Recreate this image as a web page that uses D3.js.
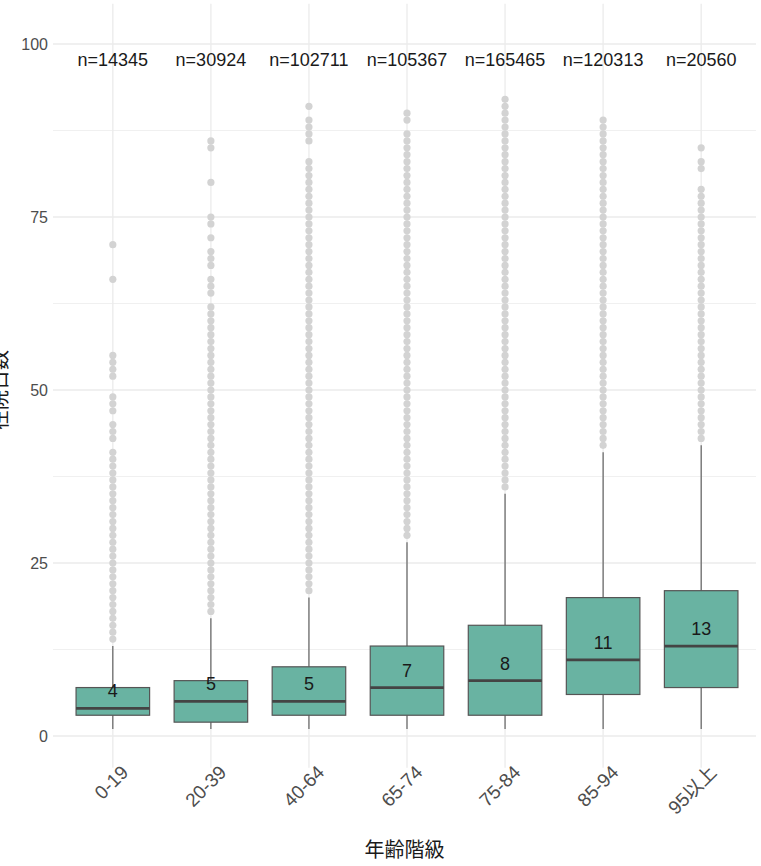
<!DOCTYPE html>
<html>
<head>
<meta charset="utf-8">
<script src="https://cdn.jsdelivr.net/npm/d3@7"></script>
<style>
  html, body { margin: 0; padding: 0; background: #ffffff; }
  svg { display: block; }
  text { font-family: "Liberation Sans", Arial, "Noto Sans CJK JP", sans-serif; }
</style>
</head>
<body>
<svg id="chart" width="761" height="866"></svg>
<script>
// Length of stay (days) by age group
const ageGroups = ["0-19", "20-39", "40-64", "65-74", "75-84", "85-94", "95以上"];
const counts = [14345, 30924, 102711, 105367, 165465, 120313, 20560];
const whiskerLow = [1, 1, 1, 1, 1, 1, 1];
const q1 = [3, 2, 3, 3, 3, 6, 7];
const medians = [4, 5, 5, 7, 8, 11, 13];
const q3 = [7, 8, 10, 13, 16, 20, 21];
const whiskerHigh = [13, 17, 20, 28, 35, 41, 42];

const outliers0 = [14, 15, 16, 17, 18, 19, 20, 21, 22, 23, 24, 25, 26, 27, 28, 29, 30, 31, 32, 33, 34, 35, 36, 37, 38, 39, 40, 41,
  43, 44, 45, 47, 48, 49, 52, 53, 54, 55, 66, 71];
const outliers1 = [18, 19, 20, 21, 22, 23, 24, 25, 26, 27, 28, 29, 30, 31, 32, 33, 34, 35, 36, 37, 38, 39, 40, 41, 42, 43, 44, 45,
  46, 47, 48, 49, 50, 51, 52, 53, 54, 55, 56, 57, 58, 59, 60, 61, 62, 64, 65, 66, 68, 69, 70, 72, 74, 75, 80, 85, 86];
const outliers2 = [21, 22, 23, 24, 25, 26, 27, 28, 29, 30, 31, 32, 33, 34, 35, 36, 37, 38, 39, 40, 41, 42, 43, 44, 45, 46, 47, 48,
  49, 50, 51, 52, 53, 54, 55, 56, 57, 58, 59, 60, 61, 62, 63, 64, 65, 66, 67, 68, 69, 70, 71, 72, 73, 74, 75, 76, 77, 78, 79, 80,
  81, 82, 83, 86, 87, 88, 89, 91];
const outliers3 = [29, 30, 31, 32, 33, 34, 35, 36, 37, 38, 39, 40, 41, 42, 43, 44, 45, 46, 47, 48, 49, 50, 51, 52, 53, 54, 55, 56,
  57, 58, 59, 60, 61, 62, 63, 64, 65, 66, 67, 68, 69, 70, 71, 72, 73, 74, 75, 76, 77, 78, 79, 80, 81, 82, 83, 84, 85, 86, 87, 89, 90];
const outliers4 = [36, 37, 38, 39, 40, 41, 42, 43, 44, 45, 46, 47, 48, 49, 50, 51, 52, 53, 54, 55, 56, 57, 58, 59, 60, 61, 62, 63,
  64, 65, 66, 67, 68, 69, 70, 71, 72, 73, 74, 75, 76, 77, 78, 79, 80, 81, 82, 83, 84, 85, 86, 87, 88, 89, 90, 91, 92];
const outliers5 = [42, 43, 44, 45, 46, 47, 48, 49, 50, 51, 52, 53, 54, 55, 56, 57, 58, 59, 60, 61, 62, 63, 64, 65, 66, 67, 68, 69,
  70, 71, 72, 73, 74, 75, 76, 77, 78, 79, 80, 81, 82, 83, 84, 85, 86, 87, 88, 89];
const outliers6 = [43, 44, 45, 46, 47, 48, 49, 50, 51, 52, 53, 54, 55, 56, 57, 58, 59, 60, 61, 62, 63, 64, 65, 66, 67, 68, 69, 70,
  71, 72, 73, 74, 75, 76, 77, 78, 79, 82, 83, 85];
const outlierLists = [outliers0, outliers1, outliers2, outliers3, outliers4, outliers5, outliers6];

const yTicks = [0, 25, 50, 75, 100];
const yMinorTicks = [12.5, 37.5, 62.5, 87.5];
const nLabelY = 97.7;

const xTitle = "年齢階級";
const yTitle = "在院日数";

// Scales
const x = d3.scaleBand().domain(ageGroups).range([54, 760]).paddingOuter(0.1).paddingInner(0);
const y = d3.scaleLinear().domain([0, 100]).range([736, 44]);

const panelTop = y(105.8), panelBottom = y(-4.6);
const panelLeft = 53, panelRight = 756;
const boxW = x.bandwidth() * 0.75;
const cx = d => x(d) + x.bandwidth() / 2;

const svg = d3.select("#chart");

// Grid
const grid = svg.append("g");
grid.selectAll(".ymin").data(yMinorTicks).join("line")
  .attr("x1", panelLeft).attr("x2", panelRight)
  .attr("y1", d => y(d)).attr("y2", d => y(d))
  .attr("stroke", "#f0f0f0").attr("stroke-width", 1);
grid.selectAll(".ymaj").data(yTicks).join("line")
  .attr("x1", panelLeft).attr("x2", panelRight)
  .attr("y1", d => y(d)).attr("y2", d => y(d))
  .attr("stroke", "#ebebeb").attr("stroke-width", 1.3);
grid.selectAll(".xmaj").data(ageGroups).join("line")
  .attr("x1", d => cx(d)).attr("x2", d => cx(d))
  .attr("y1", panelTop).attr("y2", panelBottom)
  .attr("stroke", "#ebebeb").attr("stroke-width", 1.3);

// Y axis labels
const yAxis = svg.append("g").attr("transform", `translate(${panelLeft - 5},0)`)
  .call(d3.axisLeft(y).tickValues(yTicks).tickSize(0).tickPadding(0));
yAxis.select(".domain").remove();
yAxis.selectAll("text").attr("font-size", 16).attr("fill", "#4d4d4d")
  .attr("font-family", "Liberation Sans, Arial, sans-serif");

// X axis labels (rotated)
svg.append("g").selectAll("text").data(ageGroups).join("text")
  .attr("transform", d => `translate(${cx(d) + 7},${764}) rotate(-45)`)
  .attr("text-anchor", "end")
  .attr("dominant-baseline", "hanging")
  .attr("font-size", 19)
  .attr("fill", "#4d4d4d")
  .text(d => d);

// Boxes
const groups = ageGroups.map((g, i) => ({
  g, n: counts[i], lo: whiskerLow[i], q1: q1[i], med: medians[i], q3: q3[i], hi: whiskerHigh[i], out: outlierLists[i]
}));

const boxes = svg.append("g");
// whiskers
boxes.selectAll(".wl").data(groups).join("line")
  .attr("x1", d => cx(d.g)).attr("x2", d => cx(d.g))
  .attr("y1", d => y(d.lo)).attr("y2", d => y(d.q1))
  .attr("stroke", "#555").attr("stroke-width", 1.1);
boxes.selectAll(".wh").data(groups).join("line")
  .attr("x1", d => cx(d.g)).attr("x2", d => cx(d.g))
  .attr("y1", d => y(d.q3)).attr("y2", d => y(d.hi))
  .attr("stroke", "#555").attr("stroke-width", 1.1);

// outliers
groups.forEach(d => {
  boxes.append("g").selectAll("circle").data(d.out).join("circle")
    .attr("cx", cx(d.g)).attr("cy", v => y(v)).attr("r", 3.6)
    .attr("fill", "#d3d3d3");
});

// box body
boxes.selectAll(".box").data(groups).join("rect")
  .attr("x", d => cx(d.g) - boxW / 2).attr("width", boxW)
  .attr("y", d => y(d.q3)).attr("height", d => y(d.q1) - y(d.q3))
  .attr("fill", "#69b3a2").attr("stroke", "#555").attr("stroke-width", 1.2);
// median
boxes.selectAll(".med").data(groups).join("line")
  .attr("x1", d => cx(d.g) - boxW / 2).attr("x2", d => cx(d.g) + boxW / 2)
  .attr("y1", d => y(d.med)).attr("y2", d => y(d.med))
  .attr("stroke", "#444").attr("stroke-width", 2.8);

// median labels
svg.append("g").selectAll("text").data(groups).join("text")
  .attr("x", d => cx(d.g)).attr("y", d => y(d.med) - 17)
  .attr("text-anchor", "middle").attr("dominant-baseline", "central")
  .attr("font-size", 18).attr("fill", "#1a1a1a")
  .text(d => d.med);

// n labels
svg.append("g").selectAll("text").data(groups).join("text")
  .attr("x", d => cx(d.g)).attr("y", y(nLabelY))
  .attr("text-anchor", "middle").attr("dominant-baseline", "central")
  .attr("font-size", 18).attr("fill", "#1a1a1a")
  .text(d => "n=" + d.n);

// Axis titles
svg.append("text")
  .attr("x", (panelLeft + panelRight) / 2).attr("y", 850)
  .attr("text-anchor", "middle").attr("dominant-baseline", "central")
  .attr("font-size", 20).attr("fill", "#1a1a1a")
  .text(xTitle);

svg.append("text")
  .attr("transform", `translate(7,${y(50)}) rotate(-90)`)
  .attr("text-anchor", "middle")
  .attr("font-size", 20).attr("fill", "#1a1a1a")
  .text(yTitle);
</script>
</body>
</html>
